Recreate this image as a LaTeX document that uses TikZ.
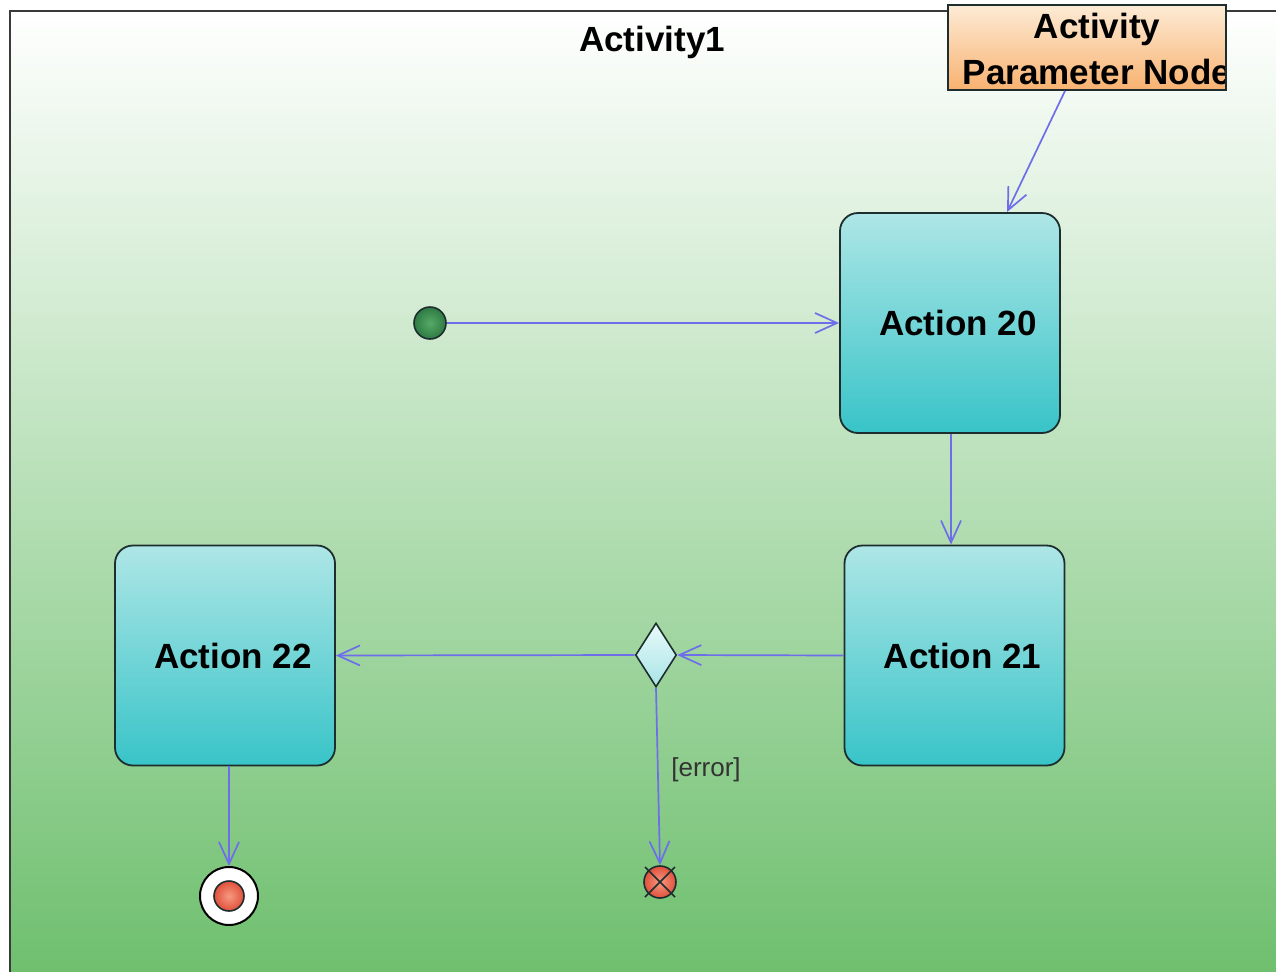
\documentclass[tikz,border=0pt]{standalone}
\usepackage{fontspec}
\setmainfont{Liberation Sans}
\usetikzlibrary{arrows.meta,shapes.geometric,calc}
\definecolor{flow}{HTML}{6E6EEA}
\definecolor{bggreen}{HTML}{6EBF6E}
\definecolor{framegray}{HTML}{3A3A3A}
\definecolor{edge}{HTML}{1E2E2E}
\definecolor{actTop}{HTML}{AEE6E6}
\definecolor{actBot}{HTML}{38C4C8}
\definecolor{parTop}{HTML}{FDEBD6}
\definecolor{parBot}{HTML}{F8B270}
\definecolor{decTop}{HTML}{E8FAFA}
\definecolor{decBot}{HTML}{A8E4E6}
\definecolor{initIn}{HTML}{55AA66}
\definecolor{initOut}{HTML}{2E7A44}
\definecolor{redIn}{HTML}{F79A80}
\definecolor{redOut}{HTML}{E0503C}
\tikzset{
  action/.style={draw=edge, line width=0.9pt, rounded corners=9pt,
    minimum width=110pt, minimum height=110pt, inner sep=0pt,
    top color=actTop, bottom color=actBot,
    font=\fontsize{17.5}{21}\selectfont\bfseries},
  flowline/.style={draw=flow, line width=0.85pt,
    -{Straight Barb[length=11pt,width=10pt,line width=0.85pt]}},
  bigtext/.style={font=\fontsize{17.5}{23}\selectfont\bfseries},
  redfill/.style={inner color=redIn, outer color=redOut}
}
\begin{document}
\begin{tikzpicture}[x=0.5pt,y=-0.5pt]
\useasboundingbox (0,0) rectangle (1276,971);
\clip (0,0) rectangle (1276,971);
\fill[white] (0,0) rectangle (1276,971);

% activity frame with its vertical gradient
\shade[top color=white, bottom color=bggreen] (10,11) rectangle (1300,975);
\draw[framegray, line width=1pt] (10,990) -- (10,11) -- (1300,11);

\node[bigtext] (title) at (652,42) {Activity1};

% parameter node (text clipped by its box)
\node[draw=edge, line width=0.9pt, minimum width=139pt, minimum height=42.5pt,
      inner sep=0pt, top color=parTop, bottom color=parBot,
      path picture={\node[bigtext, align=center, inner sep=0pt]
        at ([xshift=5pt,yshift=-0.5pt]path picture bounding box.center)
        {Activity\\Parameter Node};}] (param) at (1087,47.5) {};

% actions
\node[action] (a20) at (950,323) {\hspace*{8pt}Action 20};
\node[action] (a21) at (954.5,655.5) {\hspace*{8pt}Action 21};
\node[action] (a22) at (225,655.5) {\hspace*{8pt}Action 22};

% initial node
\node[circle, draw=edge, line width=0.8pt, minimum size=16pt, inner sep=0pt,
      inner color=initIn, outer color=initOut] (start) at (430,323) {};

% decision node
\node[diamond, draw=edge, line width=0.8pt, minimum width=20.5pt, minimum height=32pt,
      inner sep=0pt, top color=decTop, bottom color=decBot] (dec) at (656,655) {};

% flow final node
\node[circle, draw=edge, line width=0.8pt, minimum size=16pt, inner sep=0pt,
      redfill] (ff) at (660,882) {};
\draw[edge, line width=0.8pt] ([shift={(-15,-15)}]ff.center) -- ([shift={(15,15)}]ff.center)
      ([shift={(-15,15)}]ff.center) -- ([shift={(15,-15)}]ff.center);

% activity final node
\node[circle, draw=black, line width=1pt, fill=white, minimum size=29pt, inner sep=0pt] (fin) at (229,896) {};
\node[circle, draw=edge, line width=0.8pt, minimum size=15pt, inner sep=0pt,
      redfill] (finin) at (fin.center) {};

% flows
\draw[flowline] ([xshift=-11pt]param.south) -- ([xshift=28.5pt]a20.north);
\draw[flowline] (start) -- (a20);
\draw[flowline] ([xshift=0.5pt]a20.south) -- ([xshift=0.5pt]a20.south |- a21.north);
\draw[flowline] (a21.west) -- (dec.east);
\draw[flowline] (dec.west) -- (a22.east);
\draw[flowline] (dec.south) -- (ff.north);
\draw[flowline] (a22.south -| fin.north) -- (fin.north);

\node[font=\fontsize{13}{15}\selectfont, text=black!80] (err) at (706,770) {[error]};
\end{tikzpicture}
\end{document}
